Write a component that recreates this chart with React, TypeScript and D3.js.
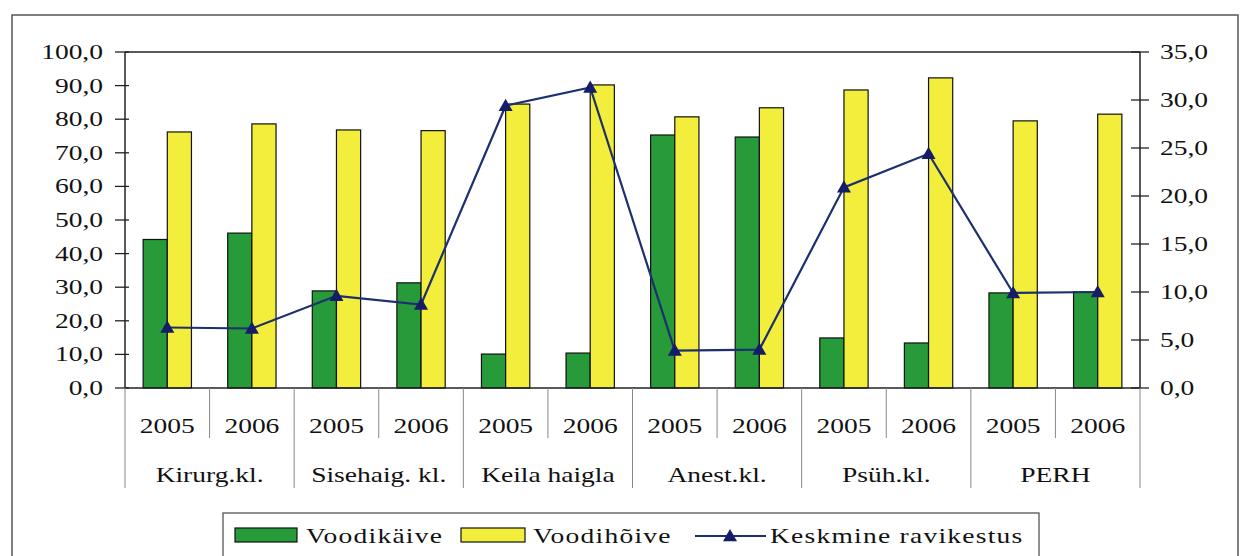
import { useMemo } from "react";
import * as d3 from "d3";

const W = 1243;
const H = 556;
const PLOT = { left: 125, right: 1140, top: 52, bottom: 388 };
const FONT = '"Liberation Serif", "Times New Roman", "DejaVu Serif", serif';
const SX = 1.25; // the scan is stretched horizontally

const groups = ["Kirurg.kl.", "Sisehaig. kl.", "Keila haigla", "Anest.kl.", "Psüh.kl.", "PERH"];
const years = ["2005", "2006"];
const voodikaive = [44.2, 46.1, 28.9, 31.3, 10.1, 10.4, 75.3, 74.7, 14.9, 13.4, 28.3, 28.6];
const voodihoive = [76.2, 78.6, 76.8, 76.6, 84.5, 90.2, 80.7, 83.4, 88.7, 92.3, 79.5, 81.5];
const ravikestus = [6.3, 6.2, 9.6, 8.7, 29.4, 31.3, 3.9, 4.0, 20.9, 24.4, 9.9, 10.0];
const leftTicks = [0, 10, 20, 30, 40, 50, 60, 70, 80, 90, 100];
const rightTicks = [0, 5, 10, 15, 20, 25, 30, 35];

const GREEN = "#279a3a";
const YELLOW = "#f3ed3c";
const NAVY = "#1c2f6e";

const fmt = (v: number) => v.toFixed(1).replace(".", ",");

const Txt = ({ x, y, anchor = "start", size = 22, spacing = 0, children }: any) => (
  <text
    transform={`translate(${x},${y}) scale(${SX},1)`}
    textAnchor={anchor}
    style={{ fontFamily: FONT, fontSize: size, letterSpacing: spacing }}
    fill="#111"
  >
    {children}
  </text>
);

const triangle = (cx: number, cy: number, s = 7) =>
  `M${cx},${cy - s} L${cx + s},${cy + s * 0.75} L${cx - s},${cy + s * 0.75} Z`;

export default function App() {
  const slots = useMemo(
    () => groups.flatMap((g) => years.map((y) => `${g}|${y}`)),
    []
  );

  const x = d3.scaleBand<string>().domain(slots).range([PLOT.left, PLOT.right]);
  const inner = d3
    .scaleBand<string>()
    .domain(["g", "y"])
    .range([0, x.bandwidth()])
    .paddingOuter(0.75);
  const yL = d3.scaleLinear().domain([0, 100]).range([PLOT.bottom, PLOT.top]);
  const yR = d3.scaleLinear().domain([0, 35]).range([PLOT.bottom, PLOT.top]);

  const line = d3
    .line<number>()
    .x((_, i) => (x(slots[i]) ?? 0) + x.bandwidth() / 2)
    .y((d) => yR(d));

  const groupW = x.bandwidth() * years.length;

  return (
    <svg width={W} height={H} style={{ position: "absolute", left: 0, top: 0 }}>
      <rect width={W} height={H} fill="#fff" />
      {/* outer chart border */}
      <rect x={12} y={15} width={1226} height={560} fill="none" stroke="#555" strokeWidth={1.5} />

      {/* plot frame */}
      <line x1={PLOT.left} x2={PLOT.right} y1={PLOT.top} y2={PLOT.top} stroke="#222" strokeWidth={1.5} />

      {/* bars */}
      {slots.map((s, i) => {
        const x0 = x(s) ?? 0;
        return (
          <g key={s}>
            <rect
              x={x0 + (inner("g") ?? 0)}
              y={yL(voodikaive[i])}
              width={inner.bandwidth()}
              height={PLOT.bottom - yL(voodikaive[i])}
              fill={GREEN}
              stroke="#111"
              strokeWidth={1.2}
            />
            <rect
              x={x0 + (inner("y") ?? 0)}
              y={yL(voodihoive[i])}
              width={inner.bandwidth()}
              height={PLOT.bottom - yL(voodihoive[i])}
              fill={YELLOW}
              stroke="#111"
              strokeWidth={1.2}
            />
          </g>
        );
      })}

      {/* line series */}
      <path d={line(ravikestus) ?? ""} fill="none" stroke={NAVY} strokeWidth={2.2} />
      {ravikestus.map((v, i) => (
        <path
          key={i}
          d={triangle((x(slots[i]) ?? 0) + x.bandwidth() / 2, yR(v))}
          fill="#141d66"
        />
      ))}

      {/* left axis */}
      <line x1={PLOT.left} x2={PLOT.left} y1={PLOT.top} y2={PLOT.bottom} stroke="#222" strokeWidth={1.5} />
      {leftTicks.map((t) => (
        <g key={t}>
          <line x1={PLOT.left - 10} x2={PLOT.left + 4} y1={yL(t)} y2={yL(t)} stroke="#222" strokeWidth={1.3} />
          <Txt x={103} y={yL(t) + 7} anchor="end">
            {fmt(t)}
          </Txt>
        </g>
      ))}

      {/* right axis */}
      <line x1={PLOT.right} x2={PLOT.right} y1={PLOT.top} y2={PLOT.bottom} stroke="#222" strokeWidth={1.5} />
      {rightTicks.map((t) => (
        <g key={t}>
          <line x1={PLOT.right - 9} x2={PLOT.right + 9} y1={yR(t)} y2={yR(t)} stroke="#222" strokeWidth={1.3} />
          <Txt x={1160} y={yR(t) + 7}>
            {fmt(t)}
          </Txt>
        </g>
      ))}

      {/* category axis */}
      <line x1={PLOT.left} x2={PLOT.right} y1={PLOT.bottom} y2={PLOT.bottom} stroke="#222" strokeWidth={1.5} />
      {slots.map((s, i) => {
        const x0 = x(s) ?? 0;
        const isGroupStart = i % years.length === 0;
        return (
          <g key={s}>
            <line
              x1={x0}
              x2={x0}
              y1={PLOT.bottom}
              y2={isGroupStart ? 488 : 438}
              stroke="#888"
              strokeWidth={1}
            />
            <Txt x={x0 + x.bandwidth() / 2} y={433} anchor="middle">
              {years[i % years.length]}
            </Txt>
          </g>
        );
      })}
      <line x1={PLOT.right} x2={PLOT.right} y1={PLOT.bottom} y2={488} stroke="#888" strokeWidth={1} />
      {groups.map((g, gi) => (
        <Txt key={g} x={PLOT.left + groupW * gi + groupW / 2} y={482} anchor="middle">
          {g}
        </Txt>
      ))}

      {/* legend */}
      <rect x={223} y={513} width={816} height={60} fill="#fff" stroke="#555" strokeWidth={1.3} />
      <rect x={235} y={528} width={62} height={14} fill={GREEN} stroke="#111" strokeWidth={1.2} />
      <Txt x={306} y={543} spacing={1}>Voodikäive</Txt>
      <rect x={461} y={528} width={64} height={14} fill={YELLOW} stroke="#111" strokeWidth={1.2} />
      <Txt x={533} y={543} spacing={1}>Voodihõive</Txt>
      <line x1={695} x2={766} y1={536} y2={536} stroke={NAVY} strokeWidth={2.2} />
      <path d={triangle(730, 536)} fill="#141d66" />
      <Txt x={770} y={543} spacing={1}>Keskmine ravikestus</Txt>
    </svg>
  );
}
